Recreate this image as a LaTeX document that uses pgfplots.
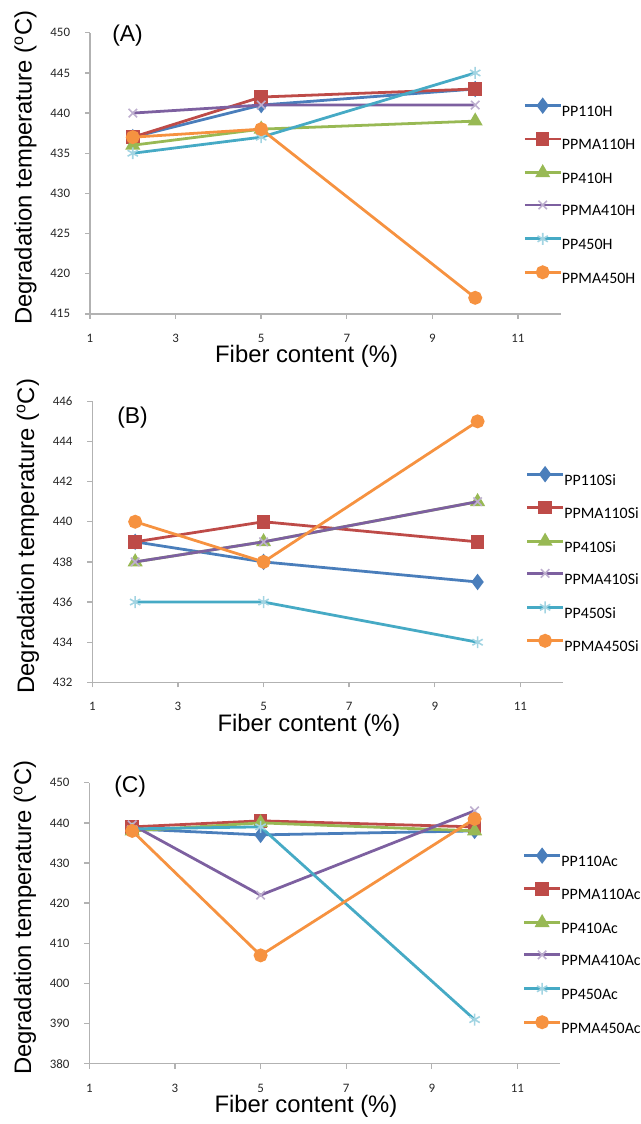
\documentclass[border=0pt]{standalone}
\usepackage{fontspec}
\setmainfont{Liberation Sans}
\newfontfamily\calibri{Carlito}
\usepackage{pgfplots}
\pgfplotsset{compat=1.18}

\definecolor{sblue}{HTML}{4A7EBB}
\definecolor{sred}{HTML}{BE4B48}
\definecolor{sgreen}{HTML}{98B954}
\definecolor{spurple}{HTML}{7D60A0}
\definecolor{saqua}{HTML}{46AAC5}
\definecolor{sorange}{HTML}{F69240}

\pgfplotsset{
  panel/.style={
    scale only axis, width=237pt, height=141.5pt, clip mode=individual,
    xmin=1, xmax=12, xtick={1,3,5,7,9,11},
    axis x line=bottom, axis y line=left,
    axis line style={-, draw=black!30, line width=0.7pt},
    tick align=outside, major tick length=2.5pt,
    tick style={black!30, line width=0.7pt},
    every tick label/.append style={font=\calibri\fontsize{6.5}{7}\selectfont, text=black!85},
    xticklabel style={yshift=-4pt},
    yticklabel style={xshift=-4pt},
    /pgf/number format/assume math mode=true,
    xlabel={Fiber content (\%)},
    ylabel={Degradation temperature (\textsuperscript{o}C)},
    label style={font=\fontsize{12}{14}\selectfont},
    xlabel style={at={(axis description cs:0.46,0)}, anchor=base, yshift=-24.5pt},
    ylabel style={at={(axis description cs:-0.137,0.52)}, anchor=center},
    legend style={at={(axis description cs:0,1)}, anchor=north west,
      xshift=218pt, yshift=-33.5pt, draw=none, fill=none, inner sep=0pt,
      font=\calibri\fontsize{8}{9}\selectfont, row sep=8.6pt,
      nodes={inner sep=0pt, text height=5.5pt, text depth=0pt}},
    legend cell align=left,
    legend image code/.code={\draw[mark repeat=2,mark phase=2,#1]
      plot coordinates {(0pt,2.7pt)(9pt,2.7pt)(18pt,2.7pt)};},
    every axis plot/.append style={line width=1.4pt},
    s1/.style={sblue, mark=diamond*, mark size=3pt, mark options={solid}},
    s2/.style={sred, mark=square*, mark size=2.7pt},
    s3/.style={sgreen, mark=triangle*, mark size=3pt},
    s4/.style={spurple, mark=x, mark size=3pt, mark options={draw=spurple!50, line width=0.8pt}},
    s5/.style={saqua, mark=asterisk, mark size=3pt, mark options={draw=saqua!50, line width=0.8pt}},
    s6/.style={sorange, mark=*, mark size=2.8pt},
  }
}

\begin{document}
\begin{tikzpicture}
\path (0,0) rectangle (322.5pt,-562pt);

% (A) hemp
\begin{axis}[panel, at={(45.3pt,-158pt)}, anchor=south west,
  ymin=415, ymax=450, ytick={415,420,...,450}]
\addplot[s1] coordinates {(2,437)(5,441)(10,443)};
\addplot[s2] coordinates {(2,437)(5,442)(10,443)};
\addplot[s3] coordinates {(2,436)(5,438)(10,439)};
\addplot[s4] coordinates {(2,440)(5,441)(10,441)};
\addplot[s5] coordinates {(2,435)(5,437)(10,445)};
\addplot[s6] coordinates {(2,437)(5,438)(10,417)};
\legend{PP110H,PPMA110H,PP410H,PPMA410H,PP450H,PPMA450H}
\node[anchor=west, font=\fontsize{11.5}{13}\selectfont] at (axis description cs:0,1) [xshift=7.7pt, yshift=-1.5pt] {(A)};
\end{axis}

% (B) silane
\begin{axis}[panel, at={(46.5pt,-343.5pt)}, anchor=south west,
  ymin=432, ymax=446, ytick={432,434,...,446}]
\addplot[s1] coordinates {(2,439)(5,438)(10,437)};
\addplot[s2] coordinates {(2,439)(5,440)(10,439)};
\addplot[s3] coordinates {(2,438)(5,439)(10,441)};
\addplot[s4] coordinates {(2,438)(5,439)(10,441)};
\addplot[s5] coordinates {(2,436)(5,436)(10,434)};
\addplot[s6] coordinates {(2,440)(5,438)(10,445)};
\legend{PP110Si,PPMA110Si,PP410Si,PPMA410Si,PP450Si,PPMA450Si}
\node[anchor=west, font=\fontsize{11.5}{13}\selectfont] at (axis description cs:0,1) [xshift=9pt, yshift=-8pt] {(B)};
\end{axis}

% (C) acetylated
\begin{axis}[panel, at={(45pt,-535.5pt)}, anchor=south west,
  ymin=380, ymax=450, ytick={380,390,...,450}]
\addplot[s1] coordinates {(2,438.5)(5,437)(10,438)};
\addplot[s2] coordinates {(2,439)(5,440.5)(10,439)};
\addplot[s3] coordinates {(2,438)(5,440)(10,438)};
\addplot[s4] coordinates {(2,439.5)(5,422)(10,443)};
\addplot[s5] coordinates {(2,438.5)(5,439)(10,391)};
\addplot[s6] coordinates {(2,438)(5,407)(10,441)};
\legend{PP110Ac,PPMA110Ac,PP410Ac,PPMA410Ac,PP450Ac,PPMA450Ac}
\node[anchor=west, font=\fontsize{11.5}{13}\selectfont] at (axis description cs:0,1) [xshift=9pt, yshift=-2pt] {(C)};
\end{axis}
\end{tikzpicture}
\end{document}
